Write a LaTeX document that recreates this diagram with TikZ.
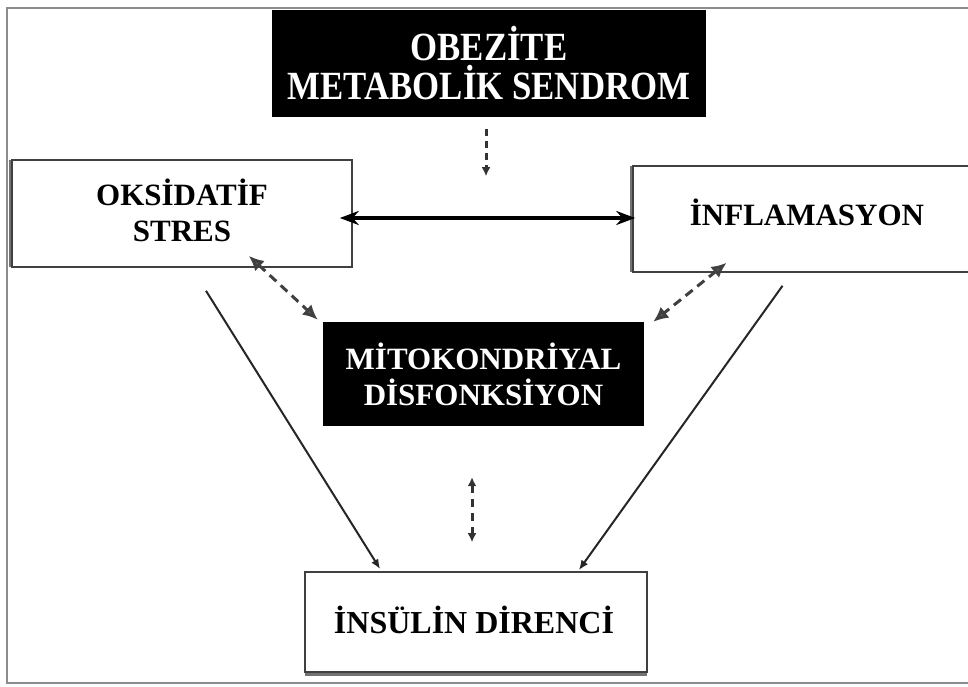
\documentclass[tikz,border=0pt]{standalone}
\usepackage{fontspec}
\setmainfont{Liberation Serif}
\newfontfamily\condfont[FakeStretch=0.87]{Liberation Serif}
\usetikzlibrary{arrows.meta,calc}

\tikzset{
  boxbase/.style={inner sep=0pt, align=center, font=\bfseries\fontsize{31}{36}\selectfont},
  lightbox/.style={boxbase, draw=black!75, line width=1.6pt, fill=white, text=black},
  darkbox/.style={boxbase, fill=black, text=white},
  condtext/.style={font=\condfont\bfseries\fontsize{#1}{39}\selectfont},
  solidlink/.style={draw=black!85, line width=2pt, -{Latex[length=10pt,width=8pt]}},
  boldlink/.style={draw=black, line width=3.4pt, {Stealth[length=19pt,width=14pt]}-{Stealth[length=19pt,width=14pt]}},
  dashlink/.style={draw=black!75, line width=3pt, dash pattern=on 9pt off 6pt,
    {Latex[length=15pt,width=14pt,fill=black!65]}-{Latex[length=15pt,width=14pt,fill=black!65]}},
  smalldash/.style={draw=black!80, line width=3pt, dash pattern=on 8pt off 6pt,
    {Latex[length=9pt,width=9pt]}-{Latex[length=9pt,width=9pt]}},
  frameline/.style={draw=black!45, line width=2.8pt},
  shadowline/.style={draw=black!55, line width=3pt}
}

\begin{document}
\begin{tikzpicture}[x=1pt,y=-1pt]
\useasboundingbox (0,0) rectangle (968,687);
\fill[white] (0,0) rectangle (968,687);

% outer frame
\draw[frameline] (7,8) rectangle (990,683);

% box shadows, drawn first so the boxes sit over them
\coordinate (oksnw) at (12,160);
\draw[shadowline] (10.5,160) -- (10.5,267);
\draw[shadowline] (631.5,166) -- (631.5,272);
\draw[shadowline] (305,674) -- (647,674);

% nodes
\node[darkbox, minimum width=434pt, minimum height=107pt, condtext=40] (obez) at (489,63.5) {OBEZİTE\\METABOLİK SENDROM};
\node[lightbox, minimum width=340pt, minimum height=107pt] (oks) at (182,213.5) {};
\node[boxbase] (okstext) at (182,210) {OKSİDATİF\\STRES};
\node[lightbox, minimum width=347pt, minimum height=106pt] (infl) at (806.5,219) {};
\node[boxbase] (infltext) at (807,212) {İNFLAMASYON};
\node[darkbox, minimum width=321pt, minimum height=104pt] (mito) at (483.5,374) {MİTOKONDRİYAL\\DİSFONKSİYON};
\node[lightbox, minimum width=342pt, minimum height=100pt] (ins) at (476,622) {};
\node[boxbase, font=\bfseries\fontsize{32}{36}\selectfont] (instext) at (474,620) {İNSÜLİN DİRENCİ};

% connectors
\coordinate (obezend) at ($(obez.south)+(-3,59)$);
\draw[draw=black!80, line width=3pt, dash pattern=on 7pt off 5pt, -{Latex[length=9pt,width=9pt]}]
  ($(obez.south)+(-3,12)$) -- (obezend);
\draw[boldlink] ($(oks.east)+(-13,4.5)$) -- ($(infl.west)+(3,-1)$);
\draw[dashlink] ($(oks.south east)+(-104,-12)$) -- ($(mito.north west)+(-5,-2)$);
\draw[dashlink] ($(infl.south)+(-80,-10)$) -- ($(mito.north east)+(9,0)$);
\draw[smalldash] ($(mito.south)+(-11.5,51)$) -- ($(ins.north)+(-4,-29)$);
\draw[solidlink] ($(oks.south)+(24,23)$) -- ($(ins.north west)+(76,-2)$);
\draw[solidlink] ($(infl.south)+(-24,13)$) -- ($(ins.north east)+(-69,-1)$);
\end{tikzpicture}
\end{document}
